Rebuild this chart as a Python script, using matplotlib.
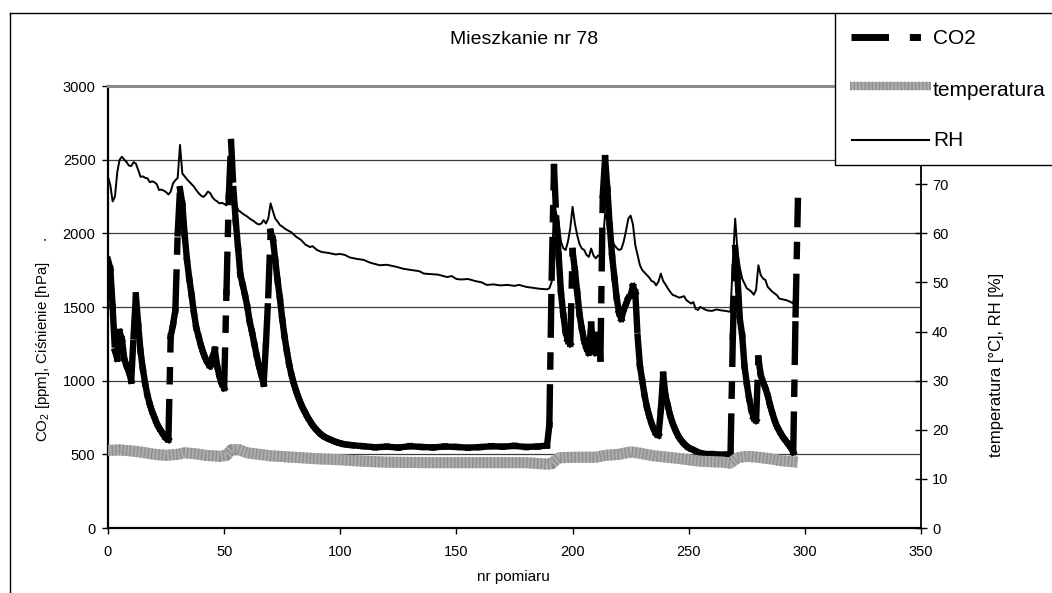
import matplotlib
matplotlib.use("Agg")
import matplotlib.pyplot as plt
from matplotlib.collections import LineCollection
from matplotlib.lines import Line2D
from matplotlib.patches import Rectangle
import numpy as np

plt.rcParams["font.family"] = ["Liberation Sans", "DejaVu Sans"]
plt.rcParams["mathtext.default"] = "regular"
plt.rcParams["lines.scale_dashes"] = False

# CO2 [ppm] (left axis)
CO2_IDX = [0, 1, 2, 3, 4, 5, 6, 7, 8, 9, 10, 11, 12, 13, 14, 15, 16, 17, 18, 19,
           20, 21, 22, 23, 24, 25, 26, 27, 28, 29, 30, 31, 32, 33, 34, 35, 36, 37,
           38, 39, 40, 41, 42, 43, 44, 45, 46, 47, 48, 49, 50, 51, 52, 53, 54, 55,
           56, 57, 58, 59, 60, 61, 62, 63, 64, 65, 66, 67, 68, 69, 70, 71, 72, 73,
           74, 75, 76, 77, 78, 79, 80, 81, 82, 83, 84, 85, 86, 87, 88, 89, 90, 91,
           92, 94, 96, 98, 100, 102, 105, 110, 115, 120, 125, 130, 135, 140, 145,
           150, 155, 160, 165, 170, 175, 180, 185, 189, 190, 191, 192, 193, 194,
           195, 196, 197, 198, 199, 200, 201, 202, 203, 204, 205, 206, 207, 208,
           209, 210, 211, 212, 213, 214, 215, 216, 217, 218, 219, 220, 221, 222,
           223, 224, 225, 226, 227, 228, 229, 230, 231, 232, 233, 234, 235, 236,
           237, 238, 239, 240, 241, 242, 243, 244, 245, 246, 247, 248, 249, 250,
           252, 254, 256, 258, 260, 262, 264, 266, 268, 269, 270, 271, 272, 273,
           274, 275, 276, 277, 278, 279, 280, 281, 282, 283, 284, 285, 286, 287,
           288, 289, 290, 291, 292, 293, 294, 295, 296, 297]
CO2_PPM = [1820, 1760, 1500, 1200, 1150, 1330, 1280, 1150, 1100, 1060, 1000, 1300,
           1580, 1380, 1200, 1080, 980, 900, 840, 790, 750, 710, 680, 655, 630, 610,
           600, 1300, 1380, 1480, 2000, 2300, 2200, 1990, 1820, 1690, 1580, 1460,
           1360, 1300, 1240, 1190, 1150, 1120, 1100, 1160, 1210, 1100, 1030, 980,
           950, 1600, 2250, 2620, 2300, 2080, 1900, 1720, 1650, 1580, 1500, 1400,
           1330, 1250, 1170, 1100, 1040, 980, 1250, 1580, 2010, 1960, 1820, 1680,
           1560, 1420, 1300, 1200, 1110, 1040, 980, 930, 885, 845, 810, 780, 750,
           725, 700, 680, 662, 646, 632, 612, 598, 585, 575, 568, 562, 555, 548,
           552, 546, 555, 550, 547, 553, 550, 545, 549, 555, 552, 557, 550, 553,
           560, 700, 1700, 2450, 2100, 1850, 1600, 1450, 1330, 1270, 1250, 1880,
           1750, 1600, 1450, 1350, 1270, 1220, 1190, 1380, 1220, 1190, 1310, 1150,
           2260, 2510, 2300, 2050, 1850, 1700, 1560, 1460, 1420, 1480, 1520, 1560,
           1580, 1640, 1600, 1300, 1100, 1000, 900, 820, 760, 710, 670, 640, 630,
           800, 1040, 900, 830, 765, 715, 675, 640, 612, 590, 572, 557, 545, 530,
           515, 505, 500, 500, 498, 497, 498, 502, 1300, 1900, 1700, 1420, 1310,
           1100, 980, 880, 800, 745, 730, 1150, 1040, 990, 950, 900, 835, 780, 730,
           690, 660, 632, 608, 588, 566, 545, 515, 1450, 2220]

# temperature [degC] (right axis)
TEMP_IDX = [0, 5, 10, 15, 20, 25, 30, 33, 38, 42, 48, 51, 53, 56, 60, 65, 70, 80,
            90, 100, 110, 120, 140, 160, 180, 189, 191, 194, 200, 210, 214, 220,
            225, 228, 235, 245, 255, 265, 268, 271, 275, 280, 285, 290, 297]
TEMP_C = [15.8, 15.9, 15.7, 15.4, 15.0, 14.8, 15.0, 15.3, 15.1, 14.8, 14.6, 14.8,
          15.9, 16.0, 15.3, 15.0, 14.7, 14.4, 14.1, 13.9, 13.6, 13.4, 13.3, 13.3,
          13.3, 13.0, 13.1, 14.3, 14.4, 14.4, 14.8, 15.0, 15.5, 15.3, 14.7, 14.2,
          13.6, 13.4, 13.2, 14.3, 14.6, 14.4, 14.1, 13.7, 13.4]

# RH [%] (right axis)
RH_IDX = [0, 1, 2, 3, 4, 5, 6, 7, 8, 9, 10, 11, 12, 13, 14, 15, 16, 17, 18, 19, 20,
          21, 22, 23, 24, 25, 26, 27, 28, 29, 30, 31, 32, 33, 34, 35, 36, 37, 38,
          39, 40, 41, 42, 43, 44, 45, 46, 47, 48, 49, 50, 51, 52, 53, 54, 55, 56,
          57, 58, 59, 60, 61, 62, 63, 64, 65, 66, 67, 68, 69, 70, 71, 72, 73, 74,
          75, 76, 77, 79, 81, 83, 85, 87, 88, 90, 92, 95, 98, 100, 102, 104, 107,
          110, 113, 117, 120, 124, 127, 131, 134, 136, 139, 142, 146, 148, 150,
          152, 155, 158, 161, 163, 166, 169, 172, 175, 177, 180, 183, 186, 189,
          190, 191, 192, 193, 194, 195, 196, 197, 198, 199, 200, 201, 202, 203,
          204, 205, 206, 207, 208, 209, 210, 211, 212, 213, 214, 215, 216, 217,
          218, 219, 220, 221, 222, 223, 224, 225, 226, 227, 228, 229, 230, 231,
          232, 233, 234, 235, 236, 237, 238, 239, 240, 241, 242, 243, 244, 246,
          248, 249, 251, 252, 253, 254, 255, 257, 258, 260, 262, 264, 266, 268,
          269, 270, 271, 272, 273, 274, 275, 276, 277, 278, 279, 280, 281, 282,
          283, 284, 285, 286, 288, 289, 291, 292, 294, 295, 296, 297]
RH_PCT = [71.5, 69.8, 66.5, 67.5, 72.5, 75.0, 75.6, 75.0, 74.5, 73.8, 73.7, 74.5,
          74.2, 72.9, 71.5, 71.6, 71.3, 71.2, 70.4, 70.6, 70.4, 70.0, 68.8, 68.9,
          68.7, 68.4, 67.9, 68.5, 70.2, 70.8, 71.3, 78.0, 72.2, 71.6, 71.0, 70.5,
          70.0, 69.5, 68.8, 68.2, 67.7, 67.4, 67.8, 68.5, 68.2, 67.3, 66.8, 66.5,
          66.1, 66.2, 66.0, 65.7, 67.5, 68.0, 67.0, 66.4, 64.7, 64.4, 64.0, 63.7,
          63.4, 63.0, 62.7, 62.4, 62.0, 61.8, 62.0, 62.7, 62.0, 63.0, 66.1, 64.5,
          63.0, 62.4, 61.7, 61.4, 61.0, 60.7, 60.2, 59.3, 58.7, 57.7, 57.2, 57.4,
          56.6, 56.2, 56.0, 55.7, 55.8, 55.6, 55.1, 54.8, 54.6, 54.0, 53.5, 53.6,
          53.2, 52.8, 52.5, 52.3, 51.8, 51.7, 51.6, 51.1, 51.3, 50.7, 50.6, 50.7,
          50.3, 50.0, 49.5, 49.6, 49.4, 49.5, 49.3, 49.5, 49.1, 48.9, 48.7, 48.6,
          48.8, 50.1, 66.0, 64.0, 62.3, 58.3, 57.0, 56.6, 58.3, 61.0, 65.4, 62.0,
          59.6, 57.8, 56.9, 56.6, 55.6, 55.2, 56.9, 55.5, 54.9, 55.5, 55.2, 58.0,
          64.0, 62.5, 59.6, 58.5, 57.6, 57.0, 56.6, 56.8, 58.3, 60.5, 63.0, 63.6,
          61.8, 57.6, 55.5, 53.5, 52.5, 52.0, 51.5, 51.0, 50.3, 50.1, 49.4, 50.2,
          51.8, 50.3, 49.6, 48.8, 48.1, 47.5, 47.3, 46.9, 47.2, 46.4, 45.7, 46.0,
          44.6, 44.4, 45.0, 44.5, 44.3, 44.2, 44.5, 44.3, 44.2, 44.0, 54.2, 63.0,
          56.2, 53.0, 50.8, 49.8, 48.8, 48.5, 48.1, 47.5, 48.5, 53.5, 51.5, 50.8,
          50.5, 49.1, 48.6, 48.1, 47.4, 46.7, 46.5, 46.4, 46.0, 45.7, 48.8, 48.5]

X_TICKS = [0, 50, 100, 150, 200, 250, 300, 350]
LEFT_TICKS = [0, 500, 1000, 1500, 2000, 2500, 3000]
RIGHT_TICKS = [0, 10, 20, 30, 40, 50, 60, 70, 80, 90]
# 80 and 90 sit under the legend box in the original
RIGHT_LABELS = ["0", "10", "20", "30", "40", "50", "60", "70", "", ""]

W, H = 1052, 593
CO2_DASH = (0, (27, 15, 8, 15))


def fx(px):
    return px / W


def fy(py):
    return 1 - py / H


fig = plt.figure(figsize=(W / 100, H / 100), dpi=100)
ax = fig.add_axes([fx(108), fy(528), fx(921) - fx(108), fy(86) - fy(528)])
ax2 = ax.twinx()

# CO2: Excel restarts the dash pattern on every segment between samples
pts = np.column_stack([CO2_IDX, CO2_PPM])
segs = np.stack([pts[:-1], pts[1:]], axis=1)
co2 = LineCollection(segs, colors="black", linewidths=4.6,
                     linestyles=[CO2_DASH], capstyle="projecting")
ax.add_collection(co2)

ax2.plot(TEMP_IDX, TEMP_C, color="#acacac", lw=8, solid_capstyle="butt")
ax2.plot(TEMP_IDX, TEMP_C, color="#8e8e8e", lw=8, dashes=(1, 1.6),
         dash_capstyle="butt")
ax2.plot(RH_IDX, RH_PCT, color="black", lw=1.4)

ax.set_xlim(0, 350)
ax.set_ylim(0, 3000)
ax2.set_ylim(0, 90)
ax.set_xticks(X_TICKS)
ax.set_yticks(LEFT_TICKS)
ax2.set_yticks(RIGHT_TICKS)
ax2.set_yticklabels(RIGHT_LABELS)

ax.yaxis.grid(True, color="#3c3c3c", lw=0.9)
ax.set_axisbelow(True)

for a in (ax, ax2):
    for side in ("left", "right", "bottom", "top"):
        a.spines[side].set_visible(False)
ax.spines["left"].set_visible(True)
ax.spines["left"].set_linewidth(1.6)
ax.spines["bottom"].set_visible(True)
ax.spines["bottom"].set_linewidth(1.6)
ax.spines["top"].set_visible(True)
ax.spines["top"].set_color("#8a8a8a")
ax.spines["top"].set_linewidth(2.2)
ax2.spines["right"].set_visible(True)
ax2.spines["right"].set_linewidth(1.3)

ax.tick_params(axis="y", direction="out", length=4, width=1, pad=5, labelsize=10.5)
ax.tick_params(axis="x", direction="out", length=4, width=1, pad=8, labelsize=10.5)
ax2.tick_params(axis="y", direction="inout", length=8, width=1, pad=4, labelsize=10.5)

fig.text(fx(524), fy(40), "Mieszkanie nr 78", ha="center", va="center", fontsize=14)
fig.text(fx(513), fy(577), "nr pomiaru", ha="center", va="center", fontsize=11)
fig.text(fx(43), fy(442), "CO$_2$ [ppm], Ciśnienie [hPa]     .", rotation=90,
         ha="center", va="bottom", fontsize=10.8)
fig.text(fx(996), fy(457), "temperatura [°C], RH [%]", rotation=90,
         ha="center", va="bottom", fontsize=12)

# outer chart frame
fig.add_artist(Line2D([fx(10), fx(10)], [fy(13), fy(600)], color="black", lw=1))
fig.add_artist(Line2D([fx(10), fx(835)], [fy(13), fy(13)], color="black", lw=1))

# legend box
fig.add_artist(Rectangle((fx(835), fy(165)), fx(1070) - fx(835), fy(13) - fy(165),
                         transform=fig.transFigure, facecolor="white",
                         edgecolor="black", lw=1, clip_on=False, zorder=5))
fig.add_artist(Line2D([fx(851), fx(921)], [fy(37), fy(37)], color="black", lw=5,
                      linestyle=CO2_DASH, dash_capstyle="butt", zorder=6))
fig.add_artist(Line2D([fx(850), fx(931)], [fy(86), fy(86)], color="#acacac", lw=6,
                      solid_capstyle="butt", zorder=6))
fig.add_artist(Line2D([fx(850), fx(931)], [fy(86), fy(86)], color="#8e8e8e", lw=6,
                      dashes=(1, 1.6), dash_capstyle="butt", zorder=6))
fig.add_artist(Line2D([fx(852), fx(929)], [fy(140), fy(140)], color="black", lw=1.5,
                      zorder=6))
for label, py in (("CO2", 39), ("temperatura", 90), ("RH", 140)):
    fig.text(fx(933), fy(py), label, ha="left", va="center", fontsize=15, zorder=7)

fig.savefig("out.png", dpi=100)
